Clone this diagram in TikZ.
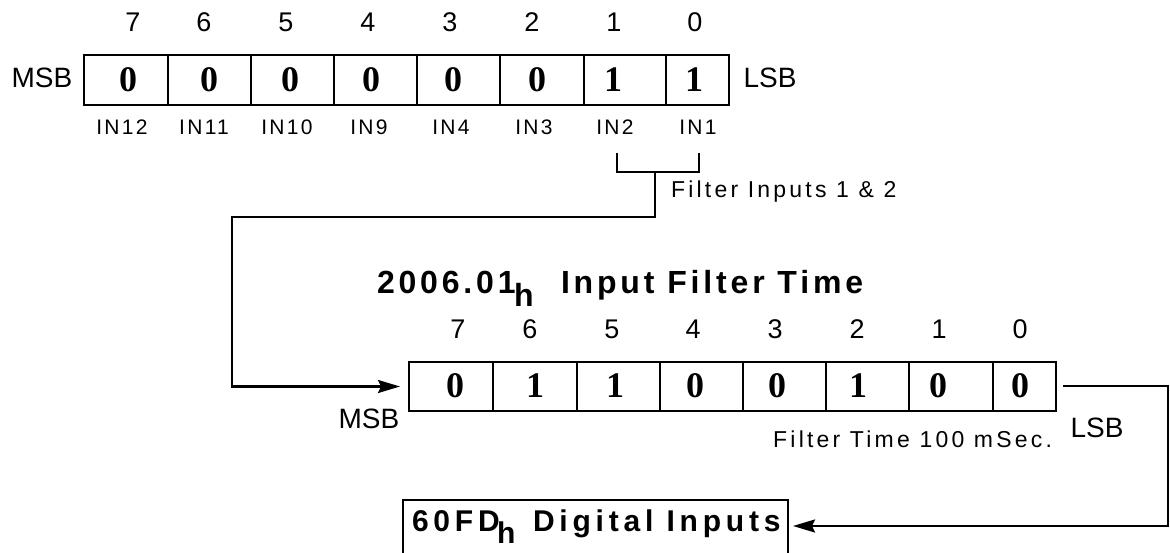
\documentclass[tikz,border=0pt]{standalone}
\usepackage{fontspec}
\setmainfont{Liberation Sans}
\newfontfamily\serifdig{Liberation Serif}
\newfontfamily\spaced{Liberation Sans}[LetterSpace=11]
\newfontfamily\spacedt{Liberation Sans}[LetterSpace=14]
\newfontfamily\spacedh{Liberation Sans}[LetterSpace=12]
\newfontfamily\spacedw{Liberation Sans}[LetterSpace=16]
\usetikzlibrary{arrows.meta}
\begin{document}
\begin{tikzpicture}[x=1pt,y=-1pt,
  txt/.style={anchor=base, inner sep=0pt, outer sep=0pt},
  bitn/.style={txt, font=\fontsize{27}{27}\selectfont},
  side/.style={txt, font=\fontsize{28}{28}\selectfont},
  digit/.style={txt, font=\serifdig\bfseries\fontsize{36}{36}\selectfont},
  inl/.style={txt, font=\spaced\fontsize{21}{21}\selectfont},
  note/.style={txt, font=\spacedt\fontsize{23}{23}\selectfont},
  head/.style={txt, anchor=base west, font=\spacedh\bfseries\fontsize{32}{32}\selectfont},
  headb/.style={txt, anchor=base west, font=\spacedw\bfseries\fontsize{30}{30}\selectfont},
  regbox/.style={draw, line width=2.4pt, inner sep=0pt, outer sep=0pt, anchor=north west},
  divl/.style={line width=2pt},
  conn/.style={line width=2.4pt},
  arr/.style={conn, -{Stealth[length=22pt,width=13pt,inset=3pt]}},
]
\useasboundingbox (0,0) rectangle (1170,553);

% ---- top register (60FD bits)
\node[regbox, minimum width=645pt, minimum height=50pt] (reg1) at (84,55) {};
\foreach \x in {168,251,334,417,500,584,666} \draw[divl] (\x,55) -- (\x,105);
\foreach \x/\d [count=\i] in {128/0,209/0,290/0,371/0,453/0,537/0,613/1,694/1}
  \node[digit] (ta\i) at (\x,92) {\d};
\foreach \x/\n [count=\i] in {133/7,204/6,286/5,368/4,450/3,532/2,614/1,695/0}
  \node[bitn] (tb\i) at (\x,32) {\n};
\foreach \x/\n [count=\i] in {122/IN12,204/IN11,287/IN10,369/IN9,451/IN4,534/IN3,615/IN2,698/IN1}
  \node[inl] (tin\i) at (\x,135) {\n};
\node[side] (msb1) at (42,88) {MSB};
\node[side] (lsb1) at (770,88) {LSB};

% ---- bracket and connector
\coordinate (bl) at (617,153);
\coordinate (br) at (699,153);
\coordinate (bm) at (655,172);
\coordinate (bk) at (232,217);
\draw[conn] (bl) |- (bm) -| (br);
\node[note, anchor=base west] (fin) at (671,198) {Filter Inputs 1 \& 2};

% ---- second register (2006.01h)
\node[head] (title) at (377,294) {2006.01};
\node[head] (titleh) at (514,307) {h};
\node[head] (titlet) at (561,294) {Input Filter Time};
\node[regbox, minimum width=647pt, minimum height=49pt] (reg2) at (409,362) {};
\foreach \x in {493,577,660,743,826,909,993} \draw[divl] (\x,362) -- (\x,411);
\foreach \x/\d [count=\i] in {455/0,535/1,615/1,695/0,777/0,858/1,938/0,1020/0}
  \node[digit] (ba\i) at (\x,397) {\d};
\foreach \x/\n [count=\i] in {458/7,530/6,612/5,693/4,775/3,857/2,939/1,1020/0}
  \node[bitn] (bb\i) at (\x,338) {\n};
\node[side] (msb2) at (369,428) {MSB};
\node[side] (lsb2) at (1097,437) {LSB};
\node[note, anchor=base east] (ftime) at (1052,447) {Filter Time 100 mSec.};

\draw[arr, shorten >=9pt] (bm) |- (bk) |- (reg2.west);

% ---- 60FDh box
\node[regbox, minimum width=385pt, minimum height=60pt] (dig) at (403,500) {};
\node[headb] (digt) at (412,531) {60FD};
\node[headb] (digh) at (497,543) {h};
\node[headb] (digti) at (533,531) {Digital Inputs};

\coordinate (rs) at (1063,386);
\coordinate (rc) at (1168,526);
\draw[arr, shorten >=5pt] (rs) -| (rc) -- (rc -| dig.east);
\end{tikzpicture}
\end{document}
